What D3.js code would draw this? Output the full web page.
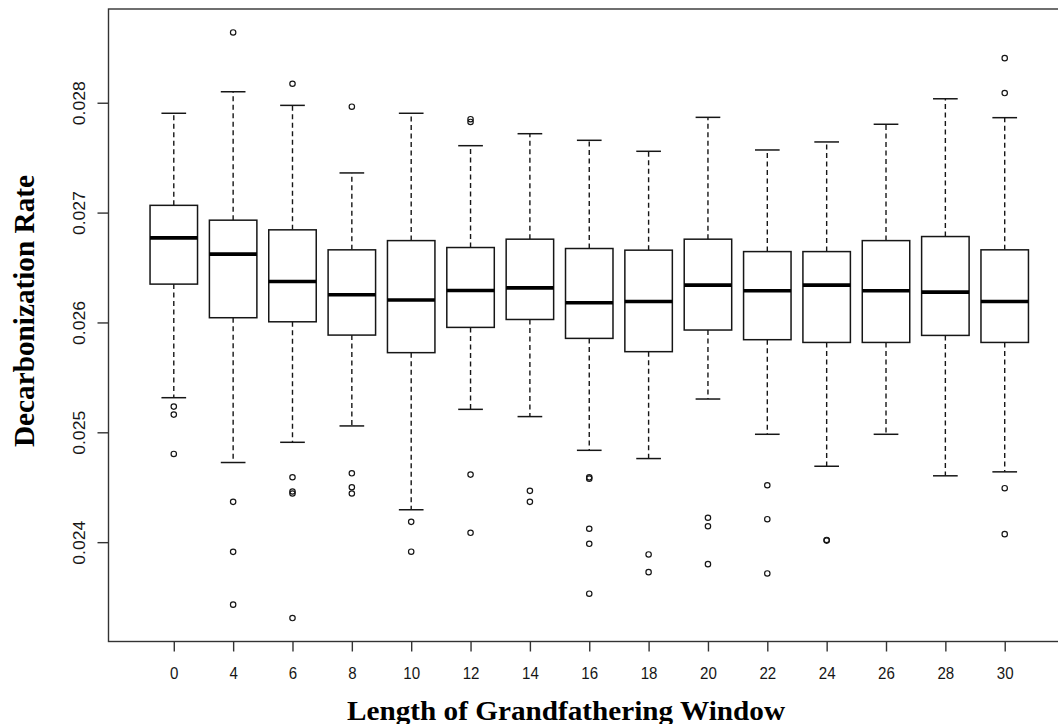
<!DOCTYPE html>
<html>
<head>
<meta charset="utf-8">
<script src="https://cdn.jsdelivr.net/npm/d3@7"></script>
<style>
  body { margin: 0; background: #fff; }
</style>
</head>
<body>
<svg id="chart" width="1058" height="724"></svg>
<script>
// grandfathering window lengths (one box each)
const windows = [0, 4, 6, 8, 10, 12, 14, 16, 18, 20, 22, 24, 26, 28, 30];

// five-number summaries
const lowWhisker = [0.025315, 0.024725, 0.024909, 0.025058, 0.024295, 0.025209, 0.025143, 0.024836,
                    0.024761, 0.025303, 0.024982, 0.024691, 0.024982, 0.024604, 0.024640];
const q1 = [0.026349, 0.026043, 0.026006, 0.025885, 0.025725, 0.025955, 0.026027, 0.025855,
            0.025734, 0.025931, 0.025843, 0.025818, 0.025818, 0.025882, 0.025818];
const median = [0.026770, 0.026622, 0.026373, 0.026252, 0.026204, 0.026291, 0.026315, 0.026179,
                0.026191, 0.026340, 0.026288, 0.026340, 0.026288, 0.026276, 0.026191];
const q3 = [0.027066, 0.026931, 0.026843, 0.026661, 0.026745, 0.026682, 0.026758, 0.026673,
            0.026658, 0.026758, 0.026645, 0.026645, 0.026745, 0.026782, 0.026661];
const highWhisker = [0.027904, 0.028100, 0.027976, 0.027361, 0.027904, 0.027609, 0.027718, 0.027658,
                     0.027558, 0.027867, 0.027570, 0.027643, 0.027804, 0.028036, 0.027864];

// outliers per box
const outliers = [
  [0.025234, 0.025161, 0.024803],
  [0.028640, 0.024367, 0.023912, 0.023431],
  [0.028173, 0.024591, 0.024461, 0.024443, 0.023309],
  [0.027964, 0.024627, 0.024500, 0.024443],
  [0.024185, 0.023913],
  [0.027850, 0.027825, 0.024615, 0.024085],
  [0.024467, 0.024367],
  [0.024590, 0.024578, 0.024122, 0.023985, 0.023531],
  [0.023888, 0.023727],
  [0.024222, 0.024145, 0.023800],
  [0.024518, 0.024209, 0.023715],
  [0.024020, 0.024014],
  [],
  [],
  [0.028406, 0.028088, 0.024491, 0.024073]
];

const yTicks = [0.024, 0.025, 0.026, 0.027, 0.028];

const svg = d3.select("#chart");
const plotLeft = 108.5, plotRight = 1070, plotTop = 9, plotBottom = 641.5;
const ink = "#161616";

// R style: 4% padding round the data range
const allVals = lowWhisker.concat(highWhisker, outliers.flat());
const lo = d3.min(allVals), hi = d3.max(allVals);
const pad = (hi - lo) * 0.04;
const y = d3.scaleLinear().domain([lo - pad, hi + pad]).range([plotBottom, plotTop]);

// boxes sit at positions 1..n, axis runs 0.5..n+0.5 plus 4%
const n = windows.length;
const x = d3.scaleLinear().domain([0.5 - 0.04 * n, n + 0.5 + 0.04 * n]).range([plotLeft, plotRight]);
const step = x(2) - x(1);
const bw = step * 0.8;
const sw = bw * 0.52;

const rows = windows.map((w, i) => ({
  w, pos: i + 1,
  lo: lowWhisker[i], q1: q1[i], med: median[i], q3: q3[i], hi: highWhisker[i],
  out: outliers[i]
}));

const g = svg.append("g");

const box = g.selectAll("g.box")
  .data(rows)
  .join("g")
  .attr("class", "box")
  .attr("transform", (d) => `translate(${x(d.pos)},0)`);

// whiskers (dashed, drawn from the box outwards)
box.append("line")
  .attr("x1", 0).attr("x2", 0)
  .attr("y1", (d) => y(d.q3)).attr("y2", (d) => y(d.hi))
  .attr("stroke", ink).attr("stroke-width", 1.4)
  .attr("stroke-dasharray", "5,3.5");
box.append("line")
  .attr("x1", 0).attr("x2", 0)
  .attr("y1", (d) => y(d.q1)).attr("y2", (d) => y(d.lo))
  .attr("stroke", ink).attr("stroke-width", 1.4)
  .attr("stroke-dasharray", "5,3.5");

// staples
box.selectAll("line.staple")
  .data((d) => [d.lo, d.hi])
  .join("line")
  .attr("class", "staple")
  .attr("x1", -sw / 2).attr("x2", sw / 2)
  .attr("y1", (v) => y(v)).attr("y2", (v) => y(v))
  .attr("stroke", ink).attr("stroke-width", 1.5);

// box
box.append("rect")
  .attr("x", -bw / 2)
  .attr("width", bw)
  .attr("y", (d) => y(d.q3))
  .attr("height", (d) => y(d.q1) - y(d.q3))
  .attr("fill", "#fff")
  .attr("stroke", ink)
  .attr("stroke-width", 1.5);

// median
box.append("line")
  .attr("x1", -bw / 2).attr("x2", bw / 2)
  .attr("y1", (d) => y(d.med)).attr("y2", (d) => y(d.med))
  .attr("stroke", "#000").attr("stroke-width", 3.6);

// outliers
box.selectAll("circle")
  .data((d) => d.out)
  .join("circle")
  .attr("cx", 0)
  .attr("cy", (v) => y(v))
  .attr("r", 2.7)
  .attr("fill", "none")
  .attr("stroke", ink)
  .attr("stroke-width", 1.2);

// frame
svg.append("rect")
  .attr("x", plotLeft).attr("y", plotTop)
  .attr("width", plotRight - plotLeft).attr("height", plotBottom - plotTop)
  .attr("fill", "none").attr("stroke", "#333").attr("stroke-width", 1.4);

// x axis
const xAxis = svg.append("g")
  .attr("transform", `translate(0,${plotBottom})`)
  .call(d3.axisBottom(x)
    .tickValues(rows.map((d) => d.pos))
    .tickFormat((p) => windows[p - 1])
    .tickSize(10)
    .tickSizeOuter(0));
xAxis.select(".domain").remove();
xAxis.selectAll(".tick line").attr("stroke", "#333").attr("stroke-width", 1.4);
xAxis.selectAll(".tick text")
  .attr("y", 0)
  .attr("dy", null)
  .attr("transform", "translate(0,37)")
  .attr("fill", ink)
  .style("font-family", "'Liberation Sans', Arial, sans-serif")
  .style("font-size", "17px")
  .attr("textLength", (p) => String(windows[p - 1]).length * 8.4)
  .attr("lengthAdjust", "spacingAndGlyphs");

// y axis
const yAxis = svg.append("g")
  .attr("transform", `translate(${plotLeft},0)`)
  .call(d3.axisLeft(y)
    .tickValues(yTicks)
    .tickFormat(d3.format(".3f"))
    .tickSize(11)
    .tickSizeOuter(0));
yAxis.select(".domain").remove();
yAxis.selectAll(".tick line").attr("stroke", "#333").attr("stroke-width", 1.4);
yAxis.selectAll(".tick text")
  .attr("x", null).attr("dy", null)
  .attr("transform", "translate(-24,0) rotate(-90)")
  .attr("text-anchor", "middle")
  .attr("fill", ink)
  .style("font-family", "'Liberation Sans', Arial, sans-serif")
  .style("font-size", "16px")
  .attr("textLength", 44)
  .attr("lengthAdjust", "spacingAndGlyphs");

// titles
svg.append("text")
  .attr("x", 347).attr("y", 720)
  .attr("fill", "#000")
  .style("font-family", "'Liberation Serif', 'Times New Roman', serif")
  .style("font-weight", "bold")
  .style("font-size", "28px")
  .attr("textLength", 438)
  .attr("lengthAdjust", "spacingAndGlyphs")
  .text("Length of Grandfathering Window");

svg.append("text")
  .attr("transform", "translate(33.5,447) rotate(-90)")
  .attr("fill", "#000")
  .style("font-family", "'Liberation Serif', 'Times New Roman', serif")
  .style("font-weight", "bold")
  .style("font-size", "30px")
  .attr("textLength", 272)
  .attr("lengthAdjust", "spacingAndGlyphs")
  .text("Decarbonization Rate");
</script>
</body>
</html>
